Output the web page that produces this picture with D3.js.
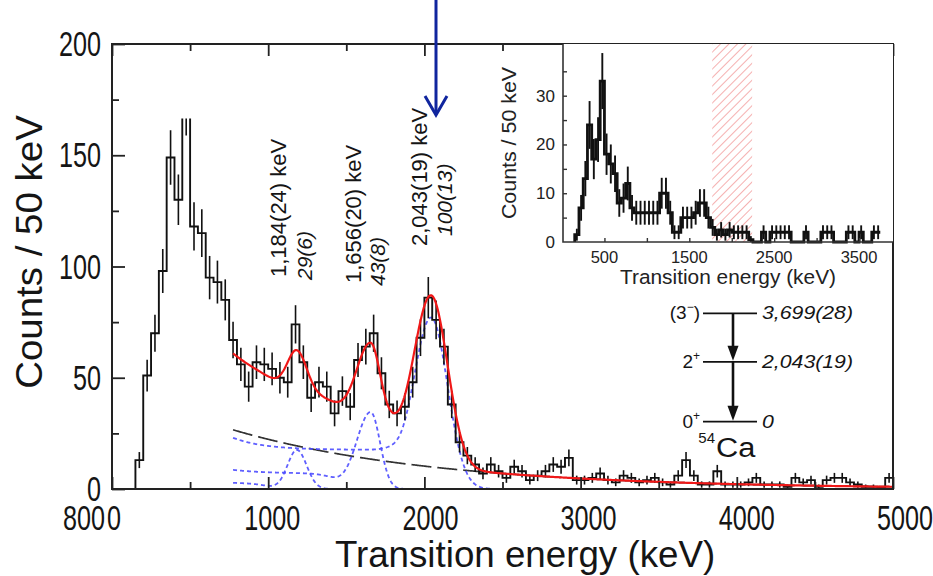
<!DOCTYPE html>
<html><head><meta charset="utf-8">
<script src="https://cdn.jsdelivr.net/npm/d3@7"></script>
<style>
body{margin:0;background:#fff;}
svg{display:block;font-family:"Liberation Sans",Arial,Helvetica,sans-serif;}
</style></head><body>
<svg id="chart" width="933" height="576"></svg>
<script>
// ---- data: 54Ca transition-energy spectrum, 50 keV bins ----
const binWidth = 50;                       // keV per bin
const mainStart = 150;                     // lower edge of first filled bin (keV)
const mainCounts = [
  13,51,70,98,149,130,172,
  118,115,95,93,85,67,56,46,57,56,
  54,50,48,74,57,41,48,46,34,44,
  37,58,64,70,52,38,34,37,48,68,
  86,76,64,38,21,15,11,7,11,8,
  5,10,8,4,6,8,11,10,14,4,
  4,5,7,4,3,6,5,3,4,5,
  3,2,6,13,6,2,2,8,2,2,
  2,3,5,2,2,2,1,5,3,4,
  1,4,5,5,3,2,1,1,0.5,5
];
const insetStart = 0;
const insetCounts = [
  0,0,0,1.5,7,13,24,17,21,33,
  18,16,14,8,9,12,7,6,6,6,
  6,6,6,10,10,6,2,2,5,5,
  5,6,8,8,5,3,1.5,2.5,1.5,2.5,
  2,2,2,2,0.5,0,0,2,0,2,
  2,2,2,2,0,0,0,2,0,0,
  0,2,2,2,0,0,0,2,2,0,
  2,0,0,2,2,0,0,0
];
const gateRange = [1770, 2240];            // hatched energy window in the inset

// fit: exponential background + three response functions
const fitStart = 775;
const bgAmp = 26.6, bgDecay = 1289;        // counts at fitStart, decay length (keV)
const peakEnergies = [1184, 1656, 2043];
const peakHeights  = [17.5, 34.5, 77];
const sigmaLow     = [60, 90, 115];
const sigmaHigh    = [62, 60, 105];
const comptonLevel = [2.4, 7, 17.6];
const comptonBoost = [0.4, 1.6, 5.4];
const comptonEdge  = [1000, 1440, 1830];
const edgeWidth    = [50, 50, 40];

const peakLabels = ["1,184(24) keV", "1,656(20) keV", "2,043(19) keV"];
const peakIntensities = ["29(6)", "43(8)", "100(13)"];

// level scheme
const levelEnergies = [0, 2043, 3699];
const levelSpin = [["0","+"], ["2","+"], ["(3","\u2212",")"]];
const levelText = ["0", "2,043(19)", "3,699(28)"];

const xTicks = [0, 1000, 2000, 3000, 4000, 5000];
const yTicks = [0, 50, 100, 150, 200];
const insetXTicks = [500, 1500, 2500, 3500];
const insetYTicks = [0, 10, 20, 30];

// ---- scales ----
const svg = d3.select("#chart");
const x = d3.scaleLinear().domain([0, 5000]).range([112, 893]);
const y = d3.scaleLinear().domain([0, 200]).range([489, 44]);
const xLab = d3.scaleLinear().domain([0, 5000]).range([114, 905]);
const xi = d3.scaleLinear().domain([0, 3900]).range([562, 893]);
const yi = d3.scaleLinear().domain([0, 40.6]).range([242, 44]);
const levelY = d3.scaleLinear().domain([0, 3699]).range([421.7, 313.3]);

function addText(sel, str, o) {
  let tr = `translate(${o.x},${o.y})`;
  if (o.rot) tr += ` rotate(${o.rot})`;
  if (o.sx && o.sx !== 1) tr += ` scale(${o.sx},1)`;
  const t = sel.append("text").attr("transform", tr)
    .attr("font-size", o.size).attr("text-anchor", o.anchor || "start")
    .attr("fill", o.fill || "#151515");
  if (o.italic) t.attr("font-style", "italic");
  if (str !== null) t.text(str);
  return t;
}

function stepPoints(start, counts) {
  const pts = [[start, 0]];
  counts.forEach((c, i) => pts.push([start + i * binWidth, c]));
  pts.push([start + counts.length * binWidth, counts[counts.length - 1]]);
  return pts;
}

// fit components
const sig = (v) => 1 / (1 + Math.exp(-v));
function response(k, E) {
  const s = E < peakEnergies[k] ? sigmaLow[k] : sigmaHigh[k];
  const g = peakHeights[k] * Math.exp(-((E - peakEnergies[k]) ** 2) / (2 * s * s));
  const plateau = (comptonLevel[k] + comptonBoost[k] * Math.exp(-(E - fitStart) / 200))
    * sig((comptonEdge[k] - E) / edgeWidth[k]);
  return g + plateau;
}
const background = (E) => bgAmp * Math.exp(-(E - fitStart) / bgDecay);

// ---- main plot ----
const defs = svg.append("defs");
defs.append("clipPath").attr("id", "plotClip").append("rect")
  .attr("x", x(0)).attr("y", y(166.5)).attr("width", x(5000) - x(0)).attr("height", y(0) - y(166.5));

const line = d3.line().x(d => x(d[0])).y(d => y(d[1]));
const energies = d3.range(fitStart, 5000.01, 5);

// background
svg.append("path").attr("d", line(energies.map(E => [E, background(E)])))
  .attr("fill", "none").attr("stroke", "#333").attr("stroke-width", 1.7)
  .attr("stroke-dasharray", "20,6");

// response functions
peakEnergies.forEach((E0, k) => {
  const es = d3.range(fitStart, E0 + 400, 5);
  svg.append("path").attr("d", line(es.map(E => [E, response(k, E)])))
    .attr("fill", "none").attr("stroke", "#4d4dff").attr("stroke-width", 1.8)
    .attr("stroke-dasharray", "4,3").attr("opacity", 0.9);
});

// histogram
const hist = svg.append("g").attr("clip-path", "url(#plotClip)");
hist.append("path")
  .attr("d", d3.line().curve(d3.curveStepAfter).x(d => x(d[0])).y(d => y(d[1]))(stepPoints(mainStart, mainCounts)))
  .attr("fill", "none").attr("stroke", "#111").attr("stroke-width", 1.9);
hist.selectAll("line.err").data(mainCounts.map((c, i) => [mainStart + (i + 0.5) * binWidth, c]).filter(d => d[1] > 0))
  .join("line").attr("class", "err")
  .attr("x1", d => x(d[0])).attr("x2", d => x(d[0]))
  .attr("y1", d => y(d[1] - Math.sqrt(d[1]))).attr("y2", d => y(d[1] + Math.sqrt(d[1])))
  .attr("stroke", "#111").attr("stroke-width", 1.6);

// total fit
svg.append("path")
  .attr("d", line(energies.map(E => [E, background(E) + d3.sum(peakEnergies, (_, k) => response(k, E))])))
  .attr("fill", "none").attr("stroke", "#f01818").attr("stroke-width", 2.2);

// ticks
function ticks(axis, vals, size) {
  return axis.tickValues(vals).tickSize(size).tickFormat("");
}
const major = d3.range(0, 5001, 1000), minor = d3.range(500, 5000, 1000);
[[d3.axisBottom, y(0)], [d3.axisTop, y(200)]].forEach(([ax, ty]) => {
  [[major, 12], [minor, 7]].forEach(([v, s]) => {
    const g = svg.append("g").attr("transform", `translate(0,${ty})`).call(ticks(ax(x), v, -s));
    g.select(".domain").remove();
    g.selectAll("line").attr("stroke", "#222").attr("stroke-width", 1.8);
  });
});
[[d3.range(0, 201, 50), 13], [d3.range(25, 200, 50), 7]].forEach(([v, s]) => {
  const g = svg.append("g").attr("transform", `translate(${x(0)},0)`).call(ticks(d3.axisLeft(y), v, -s));
  g.select(".domain").remove();
  g.selectAll("line").attr("stroke", "#222").attr("stroke-width", 1.8);
});

svg.append("rect").attr("x", x(0)).attr("y", y(200)).attr("width", x(5000) - x(0)).attr("height", y(0) - y(200))
  .attr("fill", "none").attr("stroke", "#222").attr("stroke-width", 2);

// tick labels
yTicks.forEach(v => addText(svg, String(v), { x: 101, y: y(v) + 12, size: 35, sx: 0.72, anchor: "end" }));
xTicks.forEach(v => addText(svg, String(v), { x: xLab(v), y: 530, size: 35, sx: 0.72, anchor: "middle" }));
addText(svg, "800", { x: 105, y: 530, size: 35, sx: 0.72, anchor: "end" });

// axis titles
addText(svg, "Counts / 50 keV", { x: 42, y: 252, rot: -90, size: 37, sx: 1.04, anchor: "middle" });
addText(svg, "Transition energy (keV)", { x: 525, y: 567, size: 36, sx: 1.02, anchor: "middle" });

// peak annotations
const lab1Dx = [-11, -10, -4], lab1Y = [277, 283, 246];
const lab2Dx = [15, 14, 21], lab2Y = [280, 286, 236];
peakEnergies.forEach((E, k) => {
  addText(svg, peakLabels[k], { x: x(E) + lab1Dx[k], y: lab1Y[k], rot: -90, size: 22 });
  addText(svg, peakIntensities[k], { x: x(E) + lab2Dx[k], y: lab2Y[k], rot: -90, size: 21, italic: true });
});

// ---- inset ----
const inset = svg.append("g");
inset.append("rect").attr("x", xi(0) + 1).attr("y", yi(40.6)).attr("width", xi(3900) - xi(0) - 1)
  .attr("height", yi(0) - yi(40.6)).attr("fill", "#fff");
const hatch = defs.append("pattern").attr("id", "hatch").attr("patternUnits", "userSpaceOnUse")
  .attr("width", 6).attr("height", 6).attr("patternTransform", "rotate(45)");
hatch.append("line").attr("x1", 0).attr("y1", 0).attr("x2", 0).attr("y2", 6)
  .attr("stroke", "#f4a2a2").attr("stroke-width", 1.7);
inset.append("rect").attr("x", xi(gateRange[0])).attr("y", yi(40.6))
  .attr("width", xi(gateRange[1]) - xi(gateRange[0])).attr("height", yi(0) - yi(40.6))
  .attr("fill", "url(#hatch)");

inset.append("path")
  .attr("d", d3.line().curve(d3.curveStepAfter).x(d => xi(d[0])).y(d => yi(d[1]))(stepPoints(insetStart + 3 * binWidth, insetCounts.slice(3, 75))))
  .attr("fill", "none").attr("stroke", "#111").attr("stroke-width", 2.8);
inset.selectAll("line.ierr").data(insetCounts.map((c, i) => [insetStart + (i + 0.5) * binWidth, c]).filter(d => d[1] > 0))
  .join("line").attr("class", "ierr")
  .attr("x1", d => xi(d[0])).attr("x2", d => xi(d[0]))
  .attr("y1", d => yi(Math.max(0, d[1] - Math.sqrt(d[1])))).attr("y2", d => yi(d[1] + Math.sqrt(d[1])))
  .attr("stroke", "#111").attr("stroke-width", 1.9);

inset.append("path").attr("d", `M${xi(0) + 1},${yi(40.6)}V${yi(0)}H${xi(3900)}`)
  .attr("fill", "none").attr("stroke", "#333").attr("stroke-width", 1.6);
{
  const gy = inset.append("g").attr("transform", `translate(${xi(0) + 1},0)`)
    .call(d3.axisLeft(yi).tickValues(d3.range(5, 40, 5)).tickSize(-4).tickFormat(""));
  gy.select(".domain").remove();
  gy.selectAll("line").attr("stroke", "#333").attr("stroke-width", 1.4);
  const gx = inset.append("g").attr("transform", `translate(0,${yi(0)})`)
    .call(d3.axisBottom(xi).tickValues(d3.range(500, 3900, 500)).tickSize(-4).tickFormat(""));
  gx.select(".domain").remove();
  gx.selectAll("line").attr("stroke", "#333").attr("stroke-width", 1.4);
}
insetYTicks.forEach(v => addText(inset, String(v), { x: 555, y: yi(v) + 6, size: 17, anchor: "end", fill: "#222" }));
insetXTicks.forEach(v => addText(inset, String(v), { x: xi(v), y: 263, size: 16.5, anchor: "middle", fill: "#222" }));
addText(inset, "Counts / 50 keV", { x: 516, y: 143, rot: -90, size: 20, sx: 1.07, anchor: "middle", fill: "#222" });
addText(inset, "Transition energy (keV)", { x: 728, y: 284, size: 19.5, sx: 1.07, anchor: "middle", fill: "#222" });

// ---- level scheme ----
const ls = svg.append("g");
const lx0 = 703, lx1 = 757, lxa = 733;
levelEnergies.forEach((E, k) => {
  ls.append("line").attr("x1", lx0).attr("x2", lx1).attr("y1", levelY(E)).attr("y2", levelY(E))
    .attr("stroke", "#111").attr("stroke-width", 1.8);
  const t = addText(ls, null, { x: 700, y: levelY(E) + 6, size: 19, anchor: "end" });
  const parts = levelSpin[k];
  t.append("tspan").text(parts[0]);
  t.append("tspan").attr("font-size", 12).attr("dy", -8).text(parts[1]);
  if (parts[2]) t.append("tspan").attr("dy", 8).text(parts[2]);
  addText(ls, levelText[k], { x: 762, y: levelY(E) + 6, size: 19, sx: 1.12, italic: true });
});
for (let k = levelEnergies.length - 1; k > 0; k--) {
  const yTop = levelY(levelEnergies[k]), yTip = levelY(levelEnergies[k - 1]) - 1;
  ls.append("line").attr("x1", lxa).attr("x2", lxa).attr("y1", yTop).attr("y2", yTip - 10)
    .attr("stroke", "#111").attr("stroke-width", 2.6);
  ls.append("path").attr("d", `M${lxa - 5.5},${yTip - 15}L${lxa},${yTip}L${lxa + 5.5},${yTip - 15}Z`)
    .attr("fill", "#111");
}
addText(ls, "54", { x: 715, y: 443, size: 15, anchor: "end" });
addText(ls, "Ca", { x: 716, y: 457, size: 28, sx: 1.1 });

// ---- pointer arrow ----
const arrow = svg.append("g").attr("stroke", "#10259e").attr("stroke-width", 3).attr("fill", "none");
arrow.append("line").attr("x1", 436).attr("x2", 436).attr("y1", 0).attr("y2", 114);
arrow.append("path").attr("d", "M425,96L436,115L447,96").attr("stroke-linejoin", "miter");
</script>
</body></html>
